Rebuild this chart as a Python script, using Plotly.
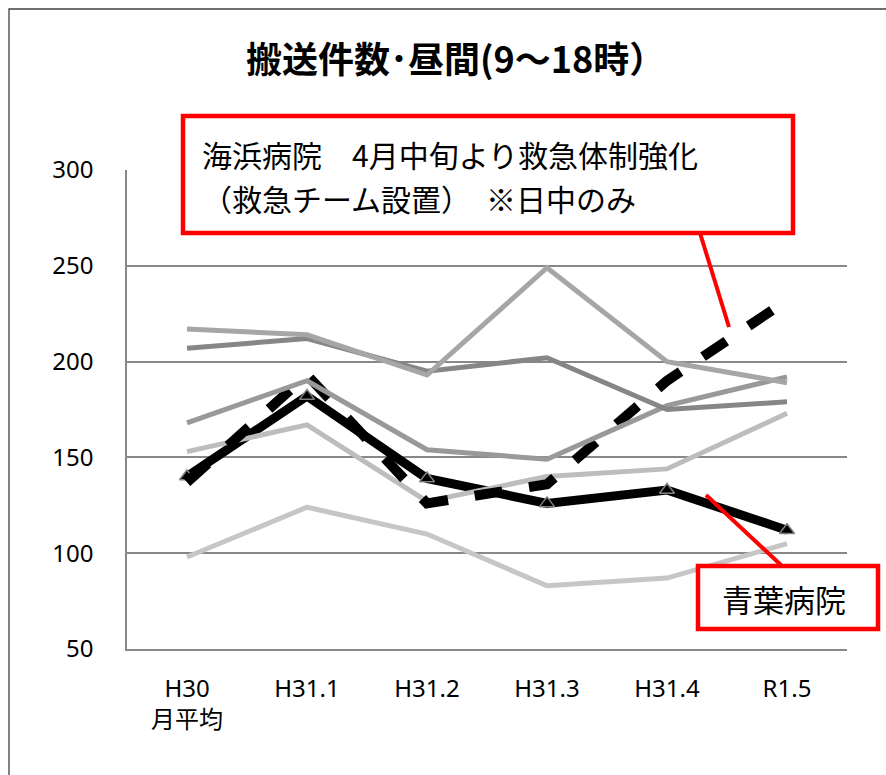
import plotly.graph_objects as go

# ---- data ----
categories = ["H30<br>月平均", "H31.1", "H31.2", "H31.3", "H31.4", "R1.5"]
aoba = [140, 182, 139, 126, 133, 112]          # 青葉病院 (black solid, triangles)
kaihin = [137, 193, 126, 136, 190, 232]        # 海浜病院 (black dashed)
gray_a = [217, 214, 193, 249, 200, 189]
gray_b = [207, 212, 195, 202, 175, 179]
gray_c = [168, 190, 154, 149, 177, 192]
gray_d = [153, 167, 127, 140, 144, 173]
gray_e = [98, 124, 110, 83, 87, 105]
y_ticks = [50, 100, 150, 200, 250, 300]

title_text = "搬送件数･昼間(9～18時）"
note1_line1 = "海浜病院　4月中旬より救急体制強化"
note1_line2 = "（救急チーム設置）　※日中のみ"
note2 = "青葉病院"

W, H = 886, 775
L, R, T, B = 127, 39, 170, 126
PW, PH = W - L - R, H - T - B

def px(x):
    return (x - L) / PW

def py(y):
    return (H - B - y) / PH

FONT = "Noto Sans, Noto Sans CJK JP, sans-serif"
JFONT = "Noto Sans CJK JP, sans-serif"

fig = go.Figure()

fig.add_trace(go.Scatter(x=categories, y=aoba, mode="lines+markers",
                         line=dict(color="#000000", width=9),
                         marker=dict(symbol="triangle-up", size=13, color="#000000",
                                     line=dict(color="#808080", width=1.5)),
                         showlegend=False))
fig.add_trace(go.Scatter(x=categories, y=gray_e, mode="lines",
                         line=dict(color="#c6c6c6", width=5), showlegend=False))
fig.add_trace(go.Scatter(x=categories, y=gray_d, mode="lines",
                         line=dict(color="#bdbdbd", width=5), showlegend=False))
fig.add_trace(go.Scatter(x=categories, y=kaihin, mode="lines",
                         line=dict(color="#000000", width=10, dash="28px,27px"),
                         showlegend=False))
fig.add_trace(go.Scatter(x=categories, y=gray_c, mode="lines",
                         line=dict(color="#999999", width=5), showlegend=False))
fig.add_trace(go.Scatter(x=categories, y=gray_b, mode="lines",
                         line=dict(color="#868686", width=5), showlegend=False))
fig.add_trace(go.Scatter(x=categories, y=gray_a, mode="lines",
                         line=dict(color="#a6a6a6", width=5), showlegend=False))

shapes = [
    # outer chart border
    dict(type="rect", xref="paper", yref="paper", x0=px(9), x1=px(905), y0=py(9), y1=py(800),
         line=dict(color="#404040", width=1.3), fillcolor="rgba(0,0,0,0)", layer="above"),
    # callout 1
    dict(type="line", xref="paper", yref="paper", x0=px(700), y0=py(233), x1=px(729), y1=py(327),
         line=dict(color="#ff0000", width=4), layer="above"),
    dict(type="rect", xref="paper", yref="paper", x0=px(183), x1=px(793), y0=py(116), y1=py(233),
         line=dict(color="#ff0000", width=4.5), fillcolor="#ffffff", layer="above"),
    # callout 2
    dict(type="line", xref="paper", yref="paper", x0=px(706), y0=py(495), x1=px(782), y1=py(566),
         line=dict(color="#ff0000", width=4), layer="above"),
    dict(type="rect", xref="paper", yref="paper", x0=px(698), x1=px(878), y0=py(566), y1=py(629),
         line=dict(color="#ff0000", width=4.5), fillcolor="#ffffff", layer="above"),
]

annotations = [
    dict(text=title_text, xref="paper", yref="paper", x=px(455), y=py(57),
         xanchor="center", yanchor="middle", showarrow=False,
         font=dict(family=JFONT, size=36, color="#000000", weight="bold")),
    dict(text=note1_line1, xref="paper", yref="paper", x=px(200), y=py(154),
         xanchor="left", yanchor="middle", align="left", showarrow=False,
         font=dict(family=JFONT, size=30, color="#000000")),
    dict(text=note1_line2, xref="paper", yref="paper", x=px(200), y=py(198),
         xanchor="left", yanchor="middle", align="left", showarrow=False,
         font=dict(family=JFONT, size=30, color="#000000")),
    dict(text=note2, xref="paper", yref="paper", x=px(784), y=py(598),
         xanchor="center", yanchor="middle", showarrow=False,
         font=dict(family=JFONT, size=31, color="#000000")),
]

fig.update_layout(
    width=W, height=H, autosize=False,
    margin=dict(l=L, r=R, t=T, b=B, pad=0),
    paper_bgcolor="#ffffff", plot_bgcolor="#ffffff",
    shapes=shapes, annotations=annotations,
    showlegend=False,
    font=dict(family=FONT, color="#000000"),
)
fig.update_xaxes(type="category", range=[-0.5, 5.5], showgrid=False,
                 showline=True, linecolor="#888888", linewidth=1.5,
                 ticks="", tickfont=dict(family=FONT, size=24, color="#000000"),
                 ticklabelstandoff=17, fixedrange=True)
fig.update_yaxes(range=[50, 300], tickvals=y_ticks, showgrid=True,
                 gridcolor="#888888", gridwidth=1.5,
                 showline=True, linecolor="#888888", linewidth=1.5,
                 zeroline=False, ticks="",
                 tickfont=dict(family=FONT, size=24, color="#000000"),
                 ticklabelstandoff=27, fixedrange=True)

fig.write_html("out.html", config={"displayModeBar": False},
               post_script="document.body.style.margin='0px';document.body.style.overflow='hidden';")
